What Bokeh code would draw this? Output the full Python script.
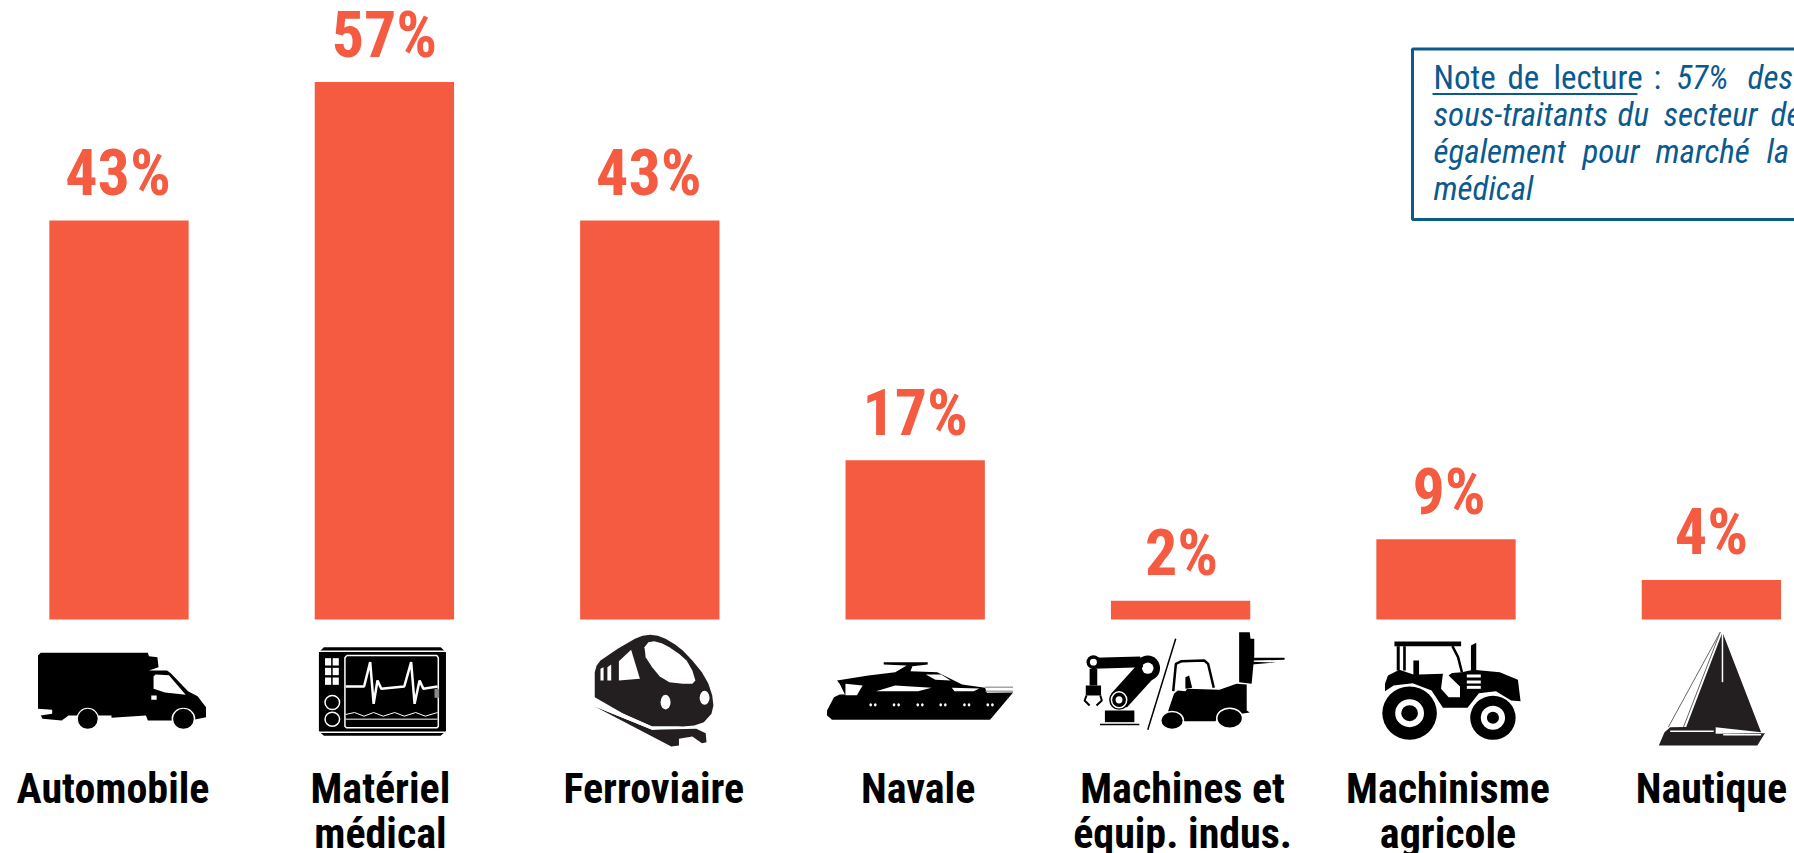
from bokeh.plotting import figure
from bokeh.models import Range1d
from bokeh.core.properties import value
from bokeh.embed import file_html
from bokeh.resources import INLINE

# ---- data ----
categories = ["Automobile", "Matériel\nmédical", "Ferroviaire", "Navale",
              "Machines et\néquip. indus.", "Machinisme\nagricole", "Nautique"]
labels = ["43%", "57%", "43%", "17%", "2%", "9%", "4%"]
bar_values = [42.3, 57.0, 42.3, 16.9, 2.0, 8.5, 4.2]
positions = [0, 1, 2, 3, 4, 5, 6]
label_shift = [-1, 0, -1, 0, 1, 3, 0]
cat_shift = [-6, -4, 4, 3, 2, 2, 0]

BAR = "#f45b41"
BLUE = "#0b5a8e"
FONT = "Roboto Condensed"
K = "#000000"
W = "#ffffff"
BASE = 0.39  # drop of an alphabetic text below its anchor, in em

W_PX, H_PX = 1794, 853
X0, PITCH = 118.5, 265.4
Y0, SCALE = 619.0, 9.43

p = figure(width=W_PX, height=H_PX, output_backend="svg", toolbar_location=None,
           x_range=Range1d(-X0 / PITCH, (W_PX - X0) / PITCH),
           y_range=Range1d(-(H_PX - Y0) / SCALE, Y0 / SCALE),
           min_border=0, background_fill_color=W, border_fill_color=W, outline_line_color=None)
p.styles = {"position": "absolute", "left": "0px", "top": "0px"}
p.axis.visible = False
p.grid.visible = False
p.extra_x_ranges["px"] = Range1d(0, W_PX)
p.extra_y_ranges["px"] = Range1d(H_PX, 0)

# bars and values
p.vbar(x=positions, top=bar_values, bottom=0, width=0.525, fill_color=BAR, line_color=None)
for i, (lab, v) in enumerate(zip(labels, bar_values)):
    p.text([i], [v], text=[lab], text_font=value(FONT), text_font_style="bold", text_font_size="64px",
           text_color=BAR, text_align="center", text_baseline="alphabetic", x_offset=label_shift[i],
           y_offset=-22 - BASE * 64)

# category names
for i, c in enumerate(categories):
    for j, line in enumerate(c.split("\n")):
        p.text([i], [0], text=[line], text_font=value(FONT), text_font_style="bold", text_font_size="42px",
               text_color=K, text_align="center", text_baseline="alphabetic",
               x_offset=cat_shift[i], y_offset=185 + 45 * j - BASE * 42)

# ---- icons, drawn in reference pixel space ----
Z2 = (0, 2.613)
Z3 = (600, 2.613)
Z4 = (1200, 2.64)
def cx(z, x): return z[0] + x / z[1]
def cy(y): return 600 + y / 3

def P(z, pts, color=K):
    p.patch([cx(z, a) for a, _ in pts], [cy(b) for _, b in pts], fill_color=color, line_color=None,
            x_range_name="px", y_range_name="px")
def L(z, pts, color=K, w=1.5):
    p.line([cx(z, a) for a, _ in pts], [cy(b) for _, b in pts], line_color=color, line_width=w,
           x_range_name="px", y_range_name="px")
def E(z, x, y, rx, ry, color=K, line=None, lw=1.5):
    p.ellipse([cx(z, x)], [cy(y)], width=[2 * rx / z[1]], height=[2 * ry / 3], fill_color=color,
              line_color=line, line_width=lw, x_range_name="px", y_range_name="px")

# truck
P(Z2, [(98,165),(105,157),(385,157),(388,167),(410,170),(413,200),(388,210),(435,210),(445,218),(490,272),(515,287),
       (537,320),(537,350),(505,358),(450,360),(385,360),(380,345),(290,352),(290,345),(178,345),(160,360),(110,355),(105,345),(135,340),(135,328),(98,325)])
P(Z2, [(400,228),(405,222),(440,224),(484,283),(430,276),(400,265)], W)
P(Z2, [(394,285),(408,285),(408,298),(394,298)], W)
E(Z2, 228, 355, 29, 33, W); E(Z2, 228, 355, 26, 30)
E(Z2, 478, 355, 31, 33, W); E(Z2, 478, 355, 27, 30)

# monitor
P(Z2, [(832,155),(845,140),(1150,140),(1164,155),(1164,392),(1150,406),(845,406),(832,392)])
L(Z2, [(832,152),(1164,152)], W, 1.5); L(Z2, [(832,395),(1164,395)], W, 1.5)
L(Z2, [(905,165),(1140,165),(1144,172),(1144,378),(1140,382),(905,382),(900,378),(900,172),(905,165)], W, 1.5)
for a in (848, 868):
    for b in (173, 202, 231):
        P(Z2, [(a,b),(a+16,b),(a+16,b+22),(a,b+22)], W)
E(Z2, 867, 306, 19, 21, K, W); E(Z2, 867, 356, 19, 21, K, W)
L(Z2, [(902,258),(950,258),(966,185),(975,310),(985,240),(995,265),(1055,258),(1073,185),(1082,310),(1095,240),(1105,265),(1142,258)], W, 2.5)
L(Z2, [(902,342),(925,336),(950,347),(975,336),(1000,347),(1030,336),(1055,347),(1085,336),(1110,347),(1142,336)], W, 1)
L(Z2, [(902,356),(1142,356)], W, 1)
P(Z2, [(1134,265),(1146,265),(1146,292),(1134,292)], "#888888")

# train
P(Z3, [(-15,215),(-10,195),(0,180),(45,145),(90,115),(110,106),(130,103),(150,106),(170,115),(195,132),(215,150),(240,180),(265,215),(282,250),(292,285),
       (295,315),(290,340),(270,365),(245,375),(215,378),(135,378),(60,340),(-15,290)], "#231f20")
P(Z3, [(115,140),(125,125),(140,122),(160,128),(180,140),(205,160),(225,180),(240,210),(248,240),(240,250),(215,250),(180,245),(155,228),(135,200),(118,170)], W)
P(Z3, [(48,182),(80,148),(103,235),(48,240)], W)
P(Z3, [(18,200),(28,192),(28,240),(18,240)], W); P(Z3, [(0,205),(8,200),(8,240),(0,240)], W)
E(Z3, 170, 305, 13, 22, W); E(Z3, 272, 292, 13, 21, W)
P(Z3, [(-15,318),(185,438),(205,435),(205,415),(240,408),(265,428),(277,425),(275,398),(250,385),(135,388)], "#231f20")
P(Z3, [(-15,302),(135,378),(215,378),(135,388),(-15,318)], W)

# motor yacht
P(Z3, [(592,330),(610,290),(625,282),(1078,276),(1018,358),(605,358),(592,345)])
P(Z3, [(618,240),(700,225),(770,215),(800,195),(740,192),(740,185),(855,185),(855,192),(815,197),(810,212),(880,215),(945,252),(1005,262),(1010,280),(640,285),(625,250)])
P(Z3, [(640,250),(685,255),(670,284),(640,284)], W)
P(Z3, [(720,272),(770,255),(865,262),(830,272)], W)
P(Z3, [(850,222),(890,222),(915,240),(875,238)], W)
P(Z3, [(918,262),(990,264),(975,272),(925,272)], W)
L(Z3, [(1005,260),(1078,260)], "#777777", 1); L(Z3, [(1005,272),(1078,272)], "#777777", 1)
for a in (712, 773, 835, 895, 957, 1018):
    for d in (-6, 6):
        E(Z3, a + d, 313, 3.5, 5, W)

# robot arm
P(Z3, [(1318,330),(1395,330),(1395,365),(1318,365)])
L(Z3, [(1305,372),(1408,372)], K, 1.5)
L(Z3, [(1355,300),(1430,205)], K, 21)
E(Z3, 1355, 298, 26, 30); E(Z3, 1355, 298, 20, 24, K, W); E(Z3, 1355, 298, 9, 11, W)
E(Z3, 1430, 203, 32, 38); E(Z3, 1430, 203, 15, 17, W)
P(Z3, [(1288,172),(1410,168),(1418,200),(1288,205)])
E(Z3, 1288, 185, 18, 21); E(Z3, 1288, 185, 9, 10, W)
P(Z3, [(1278,205),(1298,205),(1298,255),(1278,255)])
P(Z3, [(1268,255),(1308,255),(1308,285),(1268,285)])
L(Z3, [(1270,285),(1265,300),(1278,315)], K, 2); L(Z3, [(1306,285),(1310,300),(1296,315)], K, 2)
L(Z3, [(1430,388),(1503,115)], K, 1.5)

# forklift
P(Z4, [(-60,270),(-40,272),(-35,265),(50,268),(95,250),(122,252),(122,330),(130,336),(108,340),(45,340),(40,362),(-85,362),(-85,330),(-70,280)])
L(Z4, [(-72,272),(-65,190),(-50,182),(10,180),(20,190),(35,262)], K, 2.5)
P(Z4, [(-40,265),(-40,230),(-30,225),(-22,262)])
P(Z4, [(102,95),(130,95),(132,115),(142,115),(142,165),(135,250),(102,245)])
P(Z4, [(135,172),(222,172),(222,178),(135,180)]); P(Z4, [(135,184),(200,186),(135,192)])
E(Z4, -75, 360, 30, 27, K, W, 1.5); E(Z4, 77, 353, 34, 30, K, W, 1.5)

# tractor
P(Z4, [(512,123),(688,123),(688,137),(512,137)])
P(Z4, [(518,137),(526,137),(526,210),(518,210)]); P(Z4, [(535,137),(542,137),(542,210),(535,210)])
L(Z4, [(665,137),(680,170),(690,215)], K, 2.5)
P(Z4, [(714,135),(728,127),(728,210),(714,210)])
P(Z4, [(487,250),(495,225),(525,208),(562,222),(562,180),(577,180),(577,222),(640,220),(690,215),(720,208),(790,215),(838,238),(845,302),(820,300),(780,272),(735,278),(705,322),(640,322),(610,270),(560,248),(510,255),(487,272)])
P(Z4, [(640,220),(665,195),(675,208),(655,225),(685,258),(685,290),(655,290),(635,265)], W)
for b in (222, 240, 256):
    P(Z4, [(703,b),(740,b),(740,b+9),(703,b+9)], W)
E(Z4, 552, 338, 72, 80); E(Z4, 552, 338, 38, 42, W); E(Z4, 552, 338, 22, 24)
E(Z4, 772, 352, 60, 66); E(Z4, 772, 352, 32, 36, W); E(Z4, 772, 352, 16, 18)

# sailing boat
P(Z4, [(1378,95),(1480,395),(1360,380),(1282,380)], "#231f20")
L(Z4, [(1372,95),(1235,380)], "#666666", 1); L(Z4, [(1372,95),(1275,380)], "#666666", 1)
L(Z4, [(1378,95),(1378,245)], W, 1.5)
P(Z4, [(1225,395),(1240,380),(1360,378),(1360,400),(1490,398),(1470,435),(1210,435)], "#231f20")
L(Z4, [(1240,392),(1355,392)], W, 1.5); L(Z4, [(1380,403),(1480,403)], W, 1.5)

# reading note
p.quad(left=[1412], right=[1810], top=[48.5], bottom=[219], fill_color=None, line_color=BLUE, line_width=3,
       x_range_name="px", y_range_name="px")
NOTE_SIZE = 33
note_words = [
    ("Note", 1433, 90, "normal"), ("de", 1507, 90, "normal"), ("lecture", 1553, 90, "normal"),
    (":", 1653, 90, "normal"), ("57%", 1676, 90, "italic"), ("des", 1747, 90, "italic"),
    ("sous-traitants", 1433, 127, "italic"), ("du", 1617, 127, "italic"), ("secteur", 1663, 127, "italic"), ("de", 1770, 127, "italic"),
    ("également", 1433, 164, "italic"), ("pour", 1582, 164, "italic"), ("marché", 1655, 164, "italic"), ("la", 1766, 164, "italic"),
    ("médical", 1433, 201, "italic"),
]
for t, x, y, st in note_words:
    p.text([x], [y], text=[t], text_font=value(FONT), text_font_style=st, text_font_size=f"{NOTE_SIZE}px", text_color=BLUE,
           text_align="left", text_baseline="alphabetic", y_offset=-BASE * NOTE_SIZE, x_range_name="px", y_range_name="px")
p.line([1432, 1637], [93.5, 93.5], line_color=BLUE, line_width=2, x_range_name="px", y_range_name="px")

open("out.html", "w").write(file_html(p, INLINE))
